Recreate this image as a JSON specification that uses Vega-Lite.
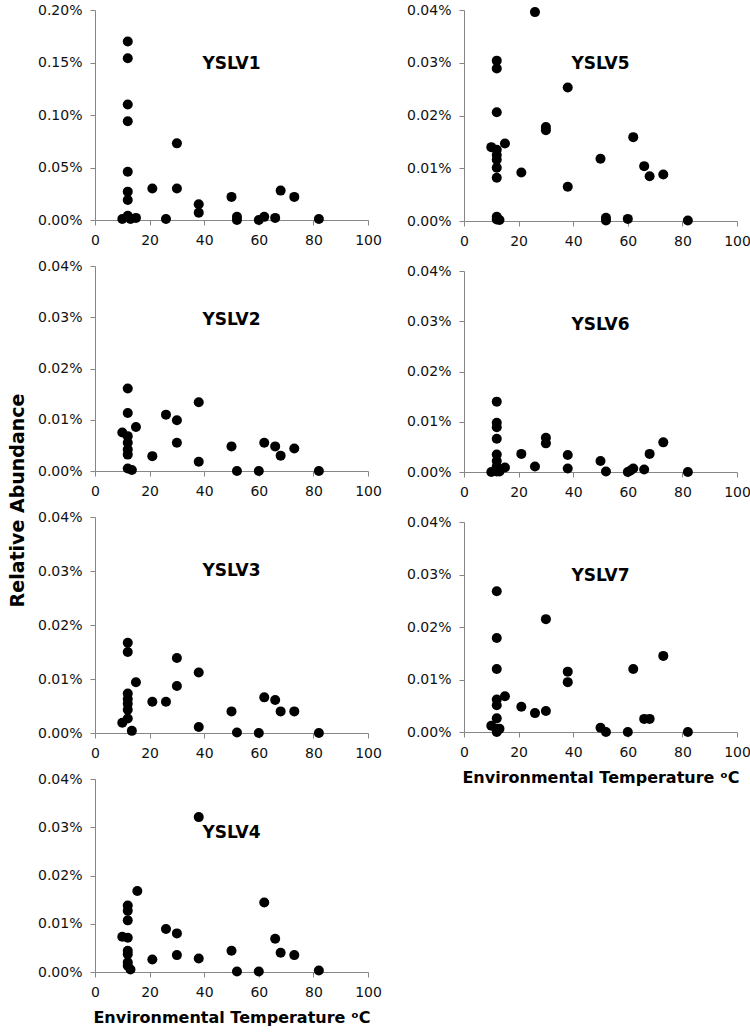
{
  "$schema": "https://vega.github.io/schema/vega-lite/v6.json",
  "padding": {"left": 8, "top": 3, "right": 5, "bottom": 5},
  "background": "white",
  "data": {"values": [
    {"panel": "YSLV1", "temp": 12, "pct": 0.170},
    {"panel": "YSLV1", "temp": 12, "pct": 0.154},
    {"panel": "YSLV1", "temp": 12, "pct": 0.110},
    {"panel": "YSLV1", "temp": 12, "pct": 0.094},
    {"panel": "YSLV1", "temp": 12, "pct": 0.046},
    {"panel": "YSLV1", "temp": 12, "pct": 0.027},
    {"panel": "YSLV1", "temp": 12, "pct": 0.019},
    {"panel": "YSLV1", "temp": 12, "pct": 0.004},
    {"panel": "YSLV1", "temp": 10, "pct": 0.001},
    {"panel": "YSLV1", "temp": 13, "pct": 0.001},
    {"panel": "YSLV1", "temp": 15, "pct": 0.002},
    {"panel": "YSLV1", "temp": 21, "pct": 0.030},
    {"panel": "YSLV1", "temp": 26, "pct": 0.001},
    {"panel": "YSLV1", "temp": 30, "pct": 0.073},
    {"panel": "YSLV1", "temp": 30, "pct": 0.030},
    {"panel": "YSLV1", "temp": 38, "pct": 0.015},
    {"panel": "YSLV1", "temp": 38, "pct": 0.007},
    {"panel": "YSLV1", "temp": 50, "pct": 0.022},
    {"panel": "YSLV1", "temp": 52, "pct": 0.003},
    {"panel": "YSLV1", "temp": 52, "pct": 0.000},
    {"panel": "YSLV1", "temp": 60, "pct": 0.000},
    {"panel": "YSLV1", "temp": 62, "pct": 0.003},
    {"panel": "YSLV1", "temp": 66, "pct": 0.002},
    {"panel": "YSLV1", "temp": 68, "pct": 0.028},
    {"panel": "YSLV1", "temp": 73, "pct": 0.022},
    {"panel": "YSLV1", "temp": 82, "pct": 0.001},

    {"panel": "YSLV5", "temp": 26, "pct": 0.0396},
    {"panel": "YSLV5", "temp": 12, "pct": 0.0304},
    {"panel": "YSLV5", "temp": 12, "pct": 0.0289},
    {"panel": "YSLV5", "temp": 12, "pct": 0.0206},
    {"panel": "YSLV5", "temp": 12, "pct": 0.0135},
    {"panel": "YSLV5", "temp": 12, "pct": 0.0125},
    {"panel": "YSLV5", "temp": 12, "pct": 0.0116},
    {"panel": "YSLV5", "temp": 12, "pct": 0.0101},
    {"panel": "YSLV5", "temp": 12, "pct": 0.0082},
    {"panel": "YSLV5", "temp": 10, "pct": 0.0140},
    {"panel": "YSLV5", "temp": 15, "pct": 0.0147},
    {"panel": "YSLV5", "temp": 12, "pct": 0.0008},
    {"panel": "YSLV5", "temp": 12, "pct": 0.0003},
    {"panel": "YSLV5", "temp": 13, "pct": 0.0002},
    {"panel": "YSLV5", "temp": 21, "pct": 0.0092},
    {"panel": "YSLV5", "temp": 30, "pct": 0.0178},
    {"panel": "YSLV5", "temp": 30, "pct": 0.0172},
    {"panel": "YSLV5", "temp": 38, "pct": 0.0253},
    {"panel": "YSLV5", "temp": 38, "pct": 0.0065},
    {"panel": "YSLV5", "temp": 50, "pct": 0.0118},
    {"panel": "YSLV5", "temp": 52, "pct": 0.0006},
    {"panel": "YSLV5", "temp": 52, "pct": 0.0001},
    {"panel": "YSLV5", "temp": 60, "pct": 0.0004},
    {"panel": "YSLV5", "temp": 62, "pct": 0.0159},
    {"panel": "YSLV5", "temp": 66, "pct": 0.0104},
    {"panel": "YSLV5", "temp": 68, "pct": 0.0085},
    {"panel": "YSLV5", "temp": 73, "pct": 0.0088},
    {"panel": "YSLV5", "temp": 82, "pct": 0.0001},

    {"panel": "YSLV2", "temp": 12, "pct": 0.0161},
    {"panel": "YSLV2", "temp": 12, "pct": 0.0113},
    {"panel": "YSLV2", "temp": 10, "pct": 0.0075},
    {"panel": "YSLV2", "temp": 12, "pct": 0.0068},
    {"panel": "YSLV2", "temp": 12, "pct": 0.0055},
    {"panel": "YSLV2", "temp": 12, "pct": 0.0042},
    {"panel": "YSLV2", "temp": 12, "pct": 0.0032},
    {"panel": "YSLV2", "temp": 12, "pct": 0.0005},
    {"panel": "YSLV2", "temp": 13.5, "pct": 0.0002},
    {"panel": "YSLV2", "temp": 15, "pct": 0.0086},
    {"panel": "YSLV2", "temp": 21, "pct": 0.0029},
    {"panel": "YSLV2", "temp": 26, "pct": 0.0110},
    {"panel": "YSLV2", "temp": 30, "pct": 0.0099},
    {"panel": "YSLV2", "temp": 30, "pct": 0.0055},
    {"panel": "YSLV2", "temp": 38, "pct": 0.0134},
    {"panel": "YSLV2", "temp": 38, "pct": 0.0018},
    {"panel": "YSLV2", "temp": 50, "pct": 0.0048},
    {"panel": "YSLV2", "temp": 52, "pct": 0.0000},
    {"panel": "YSLV2", "temp": 60, "pct": 0.0000},
    {"panel": "YSLV2", "temp": 62, "pct": 0.0055},
    {"panel": "YSLV2", "temp": 66, "pct": 0.0048},
    {"panel": "YSLV2", "temp": 68, "pct": 0.0030},
    {"panel": "YSLV2", "temp": 73, "pct": 0.0044},
    {"panel": "YSLV2", "temp": 82, "pct": 0.0000},

    {"panel": "YSLV6", "temp": 12, "pct": 0.0140},
    {"panel": "YSLV6", "temp": 12, "pct": 0.0098},
    {"panel": "YSLV6", "temp": 12, "pct": 0.0089},
    {"panel": "YSLV6", "temp": 12, "pct": 0.0066},
    {"panel": "YSLV6", "temp": 12, "pct": 0.0035},
    {"panel": "YSLV6", "temp": 12, "pct": 0.0022},
    {"panel": "YSLV6", "temp": 12, "pct": 0.0011},
    {"panel": "YSLV6", "temp": 12, "pct": 0.0001},
    {"panel": "YSLV6", "temp": 10, "pct": 0.0000},
    {"panel": "YSLV6", "temp": 13, "pct": 0.0001},
    {"panel": "YSLV6", "temp": 15, "pct": 0.0009},
    {"panel": "YSLV6", "temp": 21, "pct": 0.0036},
    {"panel": "YSLV6", "temp": 26, "pct": 0.0011},
    {"panel": "YSLV6", "temp": 30, "pct": 0.0068},
    {"panel": "YSLV6", "temp": 30, "pct": 0.0057},
    {"panel": "YSLV6", "temp": 38, "pct": 0.0034},
    {"panel": "YSLV6", "temp": 38, "pct": 0.0007},
    {"panel": "YSLV6", "temp": 50, "pct": 0.0022},
    {"panel": "YSLV6", "temp": 52, "pct": 0.0001},
    {"panel": "YSLV6", "temp": 60, "pct": 0.0000},
    {"panel": "YSLV6", "temp": 61, "pct": 0.0003},
    {"panel": "YSLV6", "temp": 62, "pct": 0.0007},
    {"panel": "YSLV6", "temp": 66, "pct": 0.0005},
    {"panel": "YSLV6", "temp": 68, "pct": 0.0036},
    {"panel": "YSLV6", "temp": 73, "pct": 0.0059},
    {"panel": "YSLV6", "temp": 82, "pct": 0.0000},

    {"panel": "YSLV3", "temp": 12, "pct": 0.0167},
    {"panel": "YSLV3", "temp": 12, "pct": 0.0150},
    {"panel": "YSLV3", "temp": 12, "pct": 0.0073},
    {"panel": "YSLV3", "temp": 12, "pct": 0.0063},
    {"panel": "YSLV3", "temp": 12, "pct": 0.0054},
    {"panel": "YSLV3", "temp": 12, "pct": 0.0043},
    {"panel": "YSLV3", "temp": 12, "pct": 0.0027},
    {"panel": "YSLV3", "temp": 10, "pct": 0.0019},
    {"panel": "YSLV3", "temp": 13.5, "pct": 0.0004},
    {"panel": "YSLV3", "temp": 15, "pct": 0.0094},
    {"panel": "YSLV3", "temp": 21, "pct": 0.0058},
    {"panel": "YSLV3", "temp": 26, "pct": 0.0058},
    {"panel": "YSLV3", "temp": 30, "pct": 0.0139},
    {"panel": "YSLV3", "temp": 30, "pct": 0.0087},
    {"panel": "YSLV3", "temp": 38, "pct": 0.0112},
    {"panel": "YSLV3", "temp": 38, "pct": 0.0011},
    {"panel": "YSLV3", "temp": 50, "pct": 0.0040},
    {"panel": "YSLV3", "temp": 52, "pct": 0.0001},
    {"panel": "YSLV3", "temp": 60, "pct": 0.0000},
    {"panel": "YSLV3", "temp": 62, "pct": 0.0066},
    {"panel": "YSLV3", "temp": 66, "pct": 0.0061},
    {"panel": "YSLV3", "temp": 68, "pct": 0.0040},
    {"panel": "YSLV3", "temp": 73, "pct": 0.0040},
    {"panel": "YSLV3", "temp": 82, "pct": 0.0000},

    {"panel": "YSLV7", "temp": 12, "pct": 0.0268},
    {"panel": "YSLV7", "temp": 12, "pct": 0.0179},
    {"panel": "YSLV7", "temp": 12, "pct": 0.0120},
    {"panel": "YSLV7", "temp": 12, "pct": 0.0062},
    {"panel": "YSLV7", "temp": 12, "pct": 0.0051},
    {"panel": "YSLV7", "temp": 12, "pct": 0.0026},
    {"panel": "YSLV7", "temp": 10, "pct": 0.0012},
    {"panel": "YSLV7", "temp": 12, "pct": 0.0006},
    {"panel": "YSLV7", "temp": 13, "pct": 0.0006},
    {"panel": "YSLV7", "temp": 12, "pct": 0.0000},
    {"panel": "YSLV7", "temp": 15, "pct": 0.0068},
    {"panel": "YSLV7", "temp": 21, "pct": 0.0048},
    {"panel": "YSLV7", "temp": 26, "pct": 0.0036},
    {"panel": "YSLV7", "temp": 30, "pct": 0.0215},
    {"panel": "YSLV7", "temp": 30, "pct": 0.0040},
    {"panel": "YSLV7", "temp": 38, "pct": 0.0115},
    {"panel": "YSLV7", "temp": 38, "pct": 0.0095},
    {"panel": "YSLV7", "temp": 50, "pct": 0.0008},
    {"panel": "YSLV7", "temp": 52, "pct": 0.0000},
    {"panel": "YSLV7", "temp": 60, "pct": 0.0000},
    {"panel": "YSLV7", "temp": 62, "pct": 0.0120},
    {"panel": "YSLV7", "temp": 66, "pct": 0.0025},
    {"panel": "YSLV7", "temp": 68, "pct": 0.0025},
    {"panel": "YSLV7", "temp": 73, "pct": 0.0145},
    {"panel": "YSLV7", "temp": 82, "pct": 0.0000},

    {"panel": "YSLV4", "temp": 38, "pct": 0.0321},
    {"panel": "YSLV4", "temp": 15.5, "pct": 0.0168},
    {"panel": "YSLV4", "temp": 12, "pct": 0.0138},
    {"panel": "YSLV4", "temp": 12, "pct": 0.0127},
    {"panel": "YSLV4", "temp": 12, "pct": 0.0107},
    {"panel": "YSLV4", "temp": 10, "pct": 0.0073},
    {"panel": "YSLV4", "temp": 12, "pct": 0.0071},
    {"panel": "YSLV4", "temp": 12, "pct": 0.0044},
    {"panel": "YSLV4", "temp": 12, "pct": 0.0037},
    {"panel": "YSLV4", "temp": 12, "pct": 0.0020},
    {"panel": "YSLV4", "temp": 12, "pct": 0.0013},
    {"panel": "YSLV4", "temp": 13, "pct": 0.0005},
    {"panel": "YSLV4", "temp": 21, "pct": 0.0026},
    {"panel": "YSLV4", "temp": 26, "pct": 0.0089},
    {"panel": "YSLV4", "temp": 30, "pct": 0.0080},
    {"panel": "YSLV4", "temp": 30, "pct": 0.0035},
    {"panel": "YSLV4", "temp": 38, "pct": 0.0028},
    {"panel": "YSLV4", "temp": 50, "pct": 0.0044},
    {"panel": "YSLV4", "temp": 52, "pct": 0.0001},
    {"panel": "YSLV4", "temp": 60, "pct": 0.0001},
    {"panel": "YSLV4", "temp": 62, "pct": 0.0144},
    {"panel": "YSLV4", "temp": 66, "pct": 0.0069},
    {"panel": "YSLV4", "temp": 68, "pct": 0.0040},
    {"panel": "YSLV4", "temp": 73, "pct": 0.0035},
    {"panel": "YSLV4", "temp": 82, "pct": 0.0003}
  ]},
  "spacing": 24,
  "hconcat": [
    {
      "spacing": 46,
      "bounds": "flush",
      "vconcat": [
        {
          "width": 273, "height": 210,
          "transform": [{"filter": "datum.panel === 'YSLV1'"}],
          "title": {"text": "YSLV1"},
          "mark": {"type": "circle", "size": 100, "color": "#000000", "opacity": 1},
          "encoding": {
            "x": {"field": "temp", "type": "quantitative", "scale": {"domain": [0, 100], "nice": false}, "axis": {"values": [0, 20, 40, 60, 80, 100], "title": null}},
            "y": {"field": "pct", "type": "quantitative", "scale": {"domain": [0, 0.2], "nice": false}, "axis": {"values": [0, 0.05, 0.1, 0.15, 0.2], "labelExpr": "format(datum.value, '.2f') + '%'", "title": null}}
          }
        },
        {
          "width": 273, "height": 205,
          "transform": [{"filter": "datum.panel === 'YSLV2'"}],
          "title": {"text": "YSLV2"},
          "mark": {"type": "circle", "size": 100, "color": "#000000", "opacity": 1},
          "encoding": {
            "x": {"field": "temp", "type": "quantitative", "scale": {"domain": [0, 100], "nice": false}, "axis": {"values": [0, 20, 40, 60, 80, 100], "title": null}},
            "y": {"field": "pct", "type": "quantitative", "scale": {"domain": [0, 0.04], "nice": false}, "axis": {"values": [0, 0.01, 0.02, 0.03, 0.04], "labelExpr": "format(datum.value, '.2f') + '%'", "title": "Relative Abundance", "titleFont": "DejaVu Sans", "titleFontSize": 19, "titleFontWeight": "bold", "titleColor": "#000000", "titleY": 234, "titlePadding": 10}}
          }
        },
        {
          "width": 273, "height": 216,
          "transform": [{"filter": "datum.panel === 'YSLV3'"}],
          "title": {"text": "YSLV3"},
          "mark": {"type": "circle", "size": 100, "color": "#000000", "opacity": 1},
          "encoding": {
            "x": {"field": "temp", "type": "quantitative", "scale": {"domain": [0, 100], "nice": false}, "axis": {"values": [0, 20, 40, 60, 80, 100], "title": null}},
            "y": {"field": "pct", "type": "quantitative", "scale": {"domain": [0, 0.04], "nice": false}, "axis": {"values": [0, 0.01, 0.02, 0.03, 0.04], "labelExpr": "format(datum.value, '.2f') + '%'", "title": null}}
          }
        },
        {
          "width": 273, "height": 193,
          "transform": [{"filter": "datum.panel === 'YSLV4'"}],
          "title": {"text": "YSLV4"},
          "mark": {"type": "circle", "size": 100, "color": "#000000", "opacity": 1},
          "encoding": {
            "x": {"field": "temp", "type": "quantitative", "scale": {"domain": [0, 100], "nice": false}, "axis": {"values": [0, 20, 40, 60, 80, 100], "title": "Environmental Temperature ᵒC", "titleFont": "DejaVu Sans", "titleFontSize": 16, "titleFontWeight": "bold", "titleColor": "#000000", "titlePadding": 10}},
            "y": {"field": "pct", "type": "quantitative", "scale": {"domain": [0, 0.04], "nice": false}, "axis": {"values": [0, 0.01, 0.02, 0.03, 0.04], "labelExpr": "format(datum.value, '.2f') + '%'", "title": null}}
          }
        }
      ]
    },
    {
      "spacing": 50,
      "bounds": "flush",
      "vconcat": [
        {
          "width": 273, "height": 211,
          "transform": [{"filter": "datum.panel === 'YSLV5'"}],
          "title": {"text": "YSLV5"},
          "mark": {"type": "circle", "size": 100, "color": "#000000", "opacity": 1},
          "encoding": {
            "x": {"field": "temp", "type": "quantitative", "scale": {"domain": [0, 100], "nice": false}, "axis": {"values": [0, 20, 40, 60, 80, 100], "title": null}},
            "y": {"field": "pct", "type": "quantitative", "scale": {"domain": [0, 0.04], "nice": false}, "axis": {"values": [0, 0.01, 0.02, 0.03, 0.04], "labelExpr": "format(datum.value, '.2f') + '%'", "title": null}}
          }
        },
        {
          "width": 273, "height": 201,
          "transform": [{"filter": "datum.panel === 'YSLV6'"}],
          "title": {"text": "YSLV6"},
          "mark": {"type": "circle", "size": 100, "color": "#000000", "opacity": 1},
          "encoding": {
            "x": {"field": "temp", "type": "quantitative", "scale": {"domain": [0, 100], "nice": false}, "axis": {"values": [0, 20, 40, 60, 80, 100], "title": null}},
            "y": {"field": "pct", "type": "quantitative", "scale": {"domain": [0, 0.04], "nice": false}, "axis": {"values": [0, 0.01, 0.02, 0.03, 0.04], "labelExpr": "format(datum.value, '.2f') + '%'", "title": null}}
          }
        },
        {
          "width": 273, "height": 210,
          "transform": [{"filter": "datum.panel === 'YSLV7'"}],
          "title": {"text": "YSLV7"},
          "mark": {"type": "circle", "size": 100, "color": "#000000", "opacity": 1},
          "encoding": {
            "x": {"field": "temp", "type": "quantitative", "scale": {"domain": [0, 100], "nice": false}, "axis": {"values": [0, 20, 40, 60, 80, 100], "title": "Environmental Temperature ᵒC", "titleFont": "DejaVu Sans", "titleFontSize": 16, "titleFontWeight": "bold", "titleColor": "#000000", "titlePadding": 10}},
            "y": {"field": "pct", "type": "quantitative", "scale": {"domain": [0, 0.04], "nice": false}, "axis": {"values": [0, 0.01, 0.02, 0.03, 0.04], "labelExpr": "format(datum.value, '.2f') + '%'", "title": null}}
          }
        }
      ]
    }
  ],
  "config": {
    "view": {"stroke": null},
    "axis": {
      "grid": false,
      "domainColor": "#868686",
      "tickColor": "#868686",
      "tickSize": 5,
      "labelFont": "DejaVu Sans",
      "labelFontSize": 14,
      "labelColor": "#111111",
      "labelFlush": false,
      "labelOverlap": false
    },
    "axisX": {"labelPadding": 8},
    "axisY": {"labelPadding": 8},
    "title": {
      "font": "DejaVu Sans",
      "fontSize": 17,
      "fontWeight": "bold",
      "color": "#000000",
      "frame": "group",
      "anchor": "middle",
      "baseline": "middle",
      "offset": -70
    }
  }
}
